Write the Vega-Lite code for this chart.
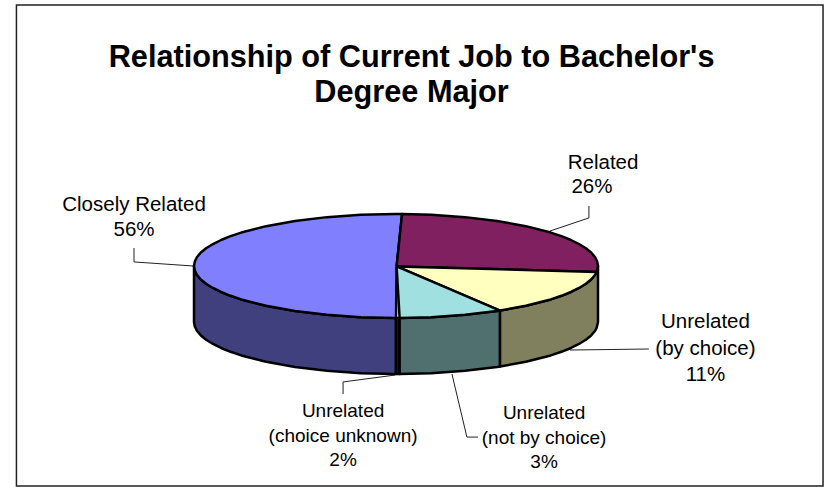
{"$schema":"https://vega.github.io/schema/vega-lite/v6.json","width":824,"height":487,"padding":0,"autosize":{"type":"none"},"background":"white","view":{"stroke":null},
"datasets":{
"frame":[{"x":-187.9,"x2":211.4,"y":129.2,"y2":-108.9}],
"polys":[
{"part":"Closely Related side","x":-100,"y":0},{"part":"Closely Related side","x":-99.6,"y":-2.24},{"part":"Closely Related side","x":-98.5,"y":-4.47},{"part":"Closely Related side","x":-96.6,"y":-6.66},{"part":"Closely Related side","x":-94,"y":-8.8},{"part":"Closely Related side","x":-90.6,"y":-10.88},{"part":"Closely Related side","x":-86.6,"y":-12.87},{"part":"Closely Related side","x":-81.9,"y":-14.76},{"part":"Closely Related side","x":-76.6,"y":-16.55},{"part":"Closely Related side","x":-64.3,"y":-19.72},{"part":"Closely Related side","x":-50,"y":-22.29},{"part":"Closely Related side","x":-34.2,"y":-24.19},{"part":"Closely Related side","x":-17.4,"y":-25.35},{"part":"Closely Related side","x":0,"y":-25.74},{"part":"Closely Related side","x":0,"y":-53.46},{"part":"Closely Related side","x":-17.4,"y":-53.07},{"part":"Closely Related side","x":-34.2,"y":-51.91},{"part":"Closely Related side","x":-50,"y":-50.01},{"part":"Closely Related side","x":-64.3,"y":-47.44},{"part":"Closely Related side","x":-76.6,"y":-44.27},{"part":"Closely Related side","x":-81.9,"y":-42.48},{"part":"Closely Related side","x":-86.6,"y":-40.59},{"part":"Closely Related side","x":-90.6,"y":-38.6},{"part":"Closely Related side","x":-94,"y":-36.52},{"part":"Closely Related side","x":-96.6,"y":-34.38},{"part":"Closely Related side","x":-98.5,"y":-32.19},{"part":"Closely Related side","x":-99.6,"y":-29.96},{"part":"Closely Related side","x":-100,"y":-27.72},{"part":"Closely Related side","x":-100,"y":0},
{"part":"Choice unknown side","x":0,"y":-25.74},{"part":"Choice unknown side","x":1.8,"y":-25.73},{"part":"Choice unknown side","x":1.8,"y":-53.45},{"part":"Choice unknown side","x":0,"y":-53.46},{"part":"Choice unknown side","x":0,"y":-25.74},
{"part":"Not by choice side","x":1.8,"y":-25.73},{"part":"Not by choice side","x":17.4,"y":-25.35},{"part":"Not by choice side","x":34.2,"y":-24.19},{"part":"Not by choice side","x":50,"y":-22.29},{"part":"Not by choice side","x":51.5,"y":-22.06},{"part":"Not by choice side","x":51.5,"y":-49.78},{"part":"Not by choice side","x":50,"y":-50.01},{"part":"Not by choice side","x":34.2,"y":-51.91},{"part":"Not by choice side","x":17.4,"y":-53.07},{"part":"Not by choice side","x":1.8,"y":-53.45},{"part":"Not by choice side","x":1.8,"y":-25.73},
{"part":"By choice side","x":51.5,"y":-22.06},{"part":"By choice side","x":64.3,"y":-19.72},{"part":"By choice side","x":76.6,"y":-16.55},{"part":"By choice side","x":81.9,"y":-14.76},{"part":"By choice side","x":86.6,"y":-12.87},{"part":"By choice side","x":90.6,"y":-10.88},{"part":"By choice side","x":94,"y":-8.8},{"part":"By choice side","x":96.6,"y":-6.66},{"part":"By choice side","x":98.5,"y":-4.47},{"part":"By choice side","x":99.3,"y":-2.96},{"part":"By choice side","x":100,"y":0},{"part":"By choice side","x":100,"y":-27.72},{"part":"By choice side","x":99.3,"y":-30.68},{"part":"By choice side","x":98.5,"y":-32.19},{"part":"By choice side","x":96.6,"y":-34.38},{"part":"By choice side","x":94,"y":-36.52},{"part":"By choice side","x":90.6,"y":-38.6},{"part":"By choice side","x":86.6,"y":-40.59},{"part":"By choice side","x":81.9,"y":-42.48},{"part":"By choice side","x":76.6,"y":-44.27},{"part":"By choice side","x":64.3,"y":-47.44},{"part":"By choice side","x":51.5,"y":-49.78},{"part":"By choice side","x":51.5,"y":-22.06},
{"part":"Closely Related","x":0.3,"y":-0.2},{"part":"Closely Related","x":3,"y":25.73},{"part":"Closely Related","x":0,"y":25.74},{"part":"Closely Related","x":-17.4,"y":25.35},{"part":"Closely Related","x":-34.2,"y":24.19},{"part":"Closely Related","x":-50,"y":22.29},{"part":"Closely Related","x":-64.3,"y":19.72},{"part":"Closely Related","x":-76.6,"y":16.55},{"part":"Closely Related","x":-81.9,"y":14.76},{"part":"Closely Related","x":-86.6,"y":12.87},{"part":"Closely Related","x":-90.6,"y":10.88},{"part":"Closely Related","x":-94,"y":8.8},{"part":"Closely Related","x":-96.6,"y":6.66},{"part":"Closely Related","x":-98.5,"y":4.47},{"part":"Closely Related","x":-99.6,"y":2.24},{"part":"Closely Related","x":-100,"y":0},{"part":"Closely Related","x":-99.6,"y":-2.24},{"part":"Closely Related","x":-98.5,"y":-4.47},{"part":"Closely Related","x":-96.6,"y":-6.66},{"part":"Closely Related","x":-94,"y":-8.8},{"part":"Closely Related","x":-90.6,"y":-10.88},{"part":"Closely Related","x":-86.6,"y":-12.87},{"part":"Closely Related","x":-81.9,"y":-14.76},{"part":"Closely Related","x":-76.6,"y":-16.55},{"part":"Closely Related","x":-64.3,"y":-19.72},{"part":"Closely Related","x":-50,"y":-22.29},{"part":"Closely Related","x":-34.2,"y":-24.19},{"part":"Closely Related","x":-17.4,"y":-25.35},{"part":"Closely Related","x":0,"y":-25.74},{"part":"Closely Related","x":0.3,"y":-0.2},
{"part":"Related","x":0.3,"y":-0.2},{"part":"Related","x":3,"y":25.73},{"part":"Related","x":17.4,"y":25.35},{"part":"Related","x":34.2,"y":24.19},{"part":"Related","x":50,"y":22.29},{"part":"Related","x":64.3,"y":19.72},{"part":"Related","x":76.6,"y":16.55},{"part":"Related","x":81.9,"y":14.76},{"part":"Related","x":86.6,"y":12.87},{"part":"Related","x":90.6,"y":10.88},{"part":"Related","x":94,"y":8.8},{"part":"Related","x":96.6,"y":6.66},{"part":"Related","x":98.5,"y":4.47},{"part":"Related","x":99.6,"y":2.24},{"part":"Related","x":100,"y":0},{"part":"Related","x":99.3,"y":-2.96},{"part":"Related","x":0.3,"y":-0.2},
{"part":"By choice","x":0.3,"y":-0.2},{"part":"By choice","x":99.3,"y":-2.96},{"part":"By choice","x":98.5,"y":-4.47},{"part":"By choice","x":96.6,"y":-6.66},{"part":"By choice","x":94,"y":-8.8},{"part":"By choice","x":90.6,"y":-10.88},{"part":"By choice","x":86.6,"y":-12.87},{"part":"By choice","x":81.9,"y":-14.76},{"part":"By choice","x":76.6,"y":-16.55},{"part":"By choice","x":64.3,"y":-19.72},{"part":"By choice","x":51.5,"y":-22.06},{"part":"By choice","x":0.3,"y":-0.2},
{"part":"Not by choice","x":0.3,"y":-0.2},{"part":"Not by choice","x":51.5,"y":-22.06},{"part":"Not by choice","x":50,"y":-22.29},{"part":"Not by choice","x":34.2,"y":-24.19},{"part":"Not by choice","x":17.4,"y":-25.35},{"part":"Not by choice","x":1.8,"y":-25.73},{"part":"Not by choice","x":0.3,"y":-0.2}
],
"leaders":[
{"label":"a","x":-100.5,"y":0},{"label":"a","x":-129.7,"y":2},{"label":"a","x":-129.7,"y":8.9},
{"label":"b","x":76.2,"y":17.3},{"label":"b","x":95.5,"y":23.8},{"label":"b","x":95.5,"y":29.7},
{"label":"c","x":86.1,"y":-41.6},{"label":"c","x":125.2,"y":-41.1},
{"label":"d","x":-0.5,"y":-54},{"label":"d","x":-26.2,"y":-57.4},{"label":"d","x":-26.2,"y":-63.4},
{"label":"e","x":27.7,"y":-53.5},{"label":"e","x":35.1,"y":-84.7},{"label":"e","x":40.6,"y":-84.7}],
"labels":[
{"t":"Closely Related","x":-129.7,"y":30.2},{"t":"56%","x":-129.7,"y":17.8},
{"t":"Related","x":102.5,"y":51.2},{"t":"26%","x":97,"y":39.1},
{"t":"Unrelated","x":153.2,"y":-27.7},{"t":"(by choice)","x":153.2,"y":-41.1},{"t":"11%","x":153.2,"y":-54.2}],
"labelsSmall":[
{"t":"Unrelated","x":-26.2,"y":-71.8},{"t":"(choice unknown)","x":-26.2,"y":-84.2},{"t":"2%","x":-26.2,"y":-96},
{"t":"Unrelated","x":73.3,"y":-72.8},{"t":"(not by choice)","x":73.3,"y":-85.1},{"t":"3%","x":73.3,"y":-97}],
"title":[{"t":"Relationship of Current Job to Bachelor's","x":7.7,"y":103.2},{"t":"Degree Major","x":7.7,"y":85.6}]
},
"layer":[
{"data":{"name":"frame"},"mark":{"type":"rect","fill":"white","stroke":"#222222","strokeWidth":1.5},"encoding":{"x":{"field":"x","type":"quantitative","scale":{"domain":[-196.04,211.88],"nice":false,"zero":false},"axis":null},"x2":{"field":"x2"},"y":{"field":"y","type":"quantitative","scale":{"domain":[-109.41,131.68],"nice":false,"zero":false},"axis":null},"y2":{"field":"y2"}}},
{"data":{"name":"leaders"},"mark":{"type":"line","stroke":"#222222","strokeWidth":1},"encoding":{"x":{"field":"x","type":"quantitative"},"y":{"field":"y","type":"quantitative"},"detail":{"field":"label"},"order":{"value":null}}},
{"data":{"name":"polys"},"mark":{"type":"line","filled":true,"stroke":"black","strokeWidth":2.5,"strokeJoin":"round"},"encoding":{"x":{"field":"x","type":"quantitative"},"y":{"field":"y","type":"quantitative"},"fill":{"field":"part","type":"nominal","legend":null,"scale":{"domain":["Closely Related side","Choice unknown side","Not by choice side","By choice side","Closely Related","Related","By choice","Not by choice"],"range":["#40407F","#400040","#50706F","#80805F","#8080FF","#802060","#FFFFC0","#A0E0E0"]}},"order":{"value":null}}},
{"data":{"name":"labels"},"mark":{"type":"text","font":"Liberation Sans","fontSize":20.5,"align":"center","baseline":"middle","color":"black"},"encoding":{"x":{"field":"x","type":"quantitative"},"y":{"field":"y","type":"quantitative"},"text":{"field":"t"}}},
{"data":{"name":"labelsSmall"},"mark":{"type":"text","font":"Liberation Sans","fontSize":19,"align":"center","baseline":"middle","color":"black"},"encoding":{"x":{"field":"x","type":"quantitative"},"y":{"field":"y","type":"quantitative"},"text":{"field":"t"}}},
{"data":{"name":"title"},"mark":{"type":"text","font":"Liberation Sans","fontSize":30.7,"fontWeight":"bold","align":"center","baseline":"middle","color":"black"},"encoding":{"x":{"field":"x","type":"quantitative"},"y":{"field":"y","type":"quantitative"},"text":{"field":"t"}}}
]}
